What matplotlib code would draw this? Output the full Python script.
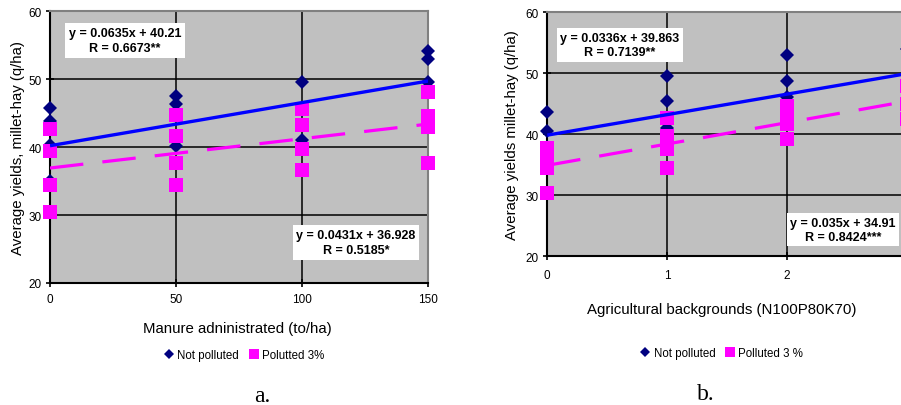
import numpy as np
import matplotlib.pyplot as plt
from matplotlib.lines import Line2D

plt.rcParams['font.family'] = ['Liberation Sans', 'DejaVu Sans']

# === Panel a: manure doses ===
a_doses = [0, 50, 100, 150]
a_not_polluted = [[45.8, 43.9, 40.3, 35.0],
                  [47.5, 46.3, 40.2],
                  [49.6, 45.4, 41.1],
                  [54.1, 53.0, 49.6, 44.2]]
a_polluted = [[42.6, 39.4, 34.4, 30.4],
              [44.7, 41.7, 37.7, 34.4],
              [45.6, 43.3, 39.8, 36.7],
              [48.1, 44.6, 42.9, 37.7]]
a_fit_np = (0.0635, 40.21)
a_fit_p = (0.0431, 36.928)
a_eq_np = "y = 0.0635x + 40.21\nR = 0.6673**"
a_eq_p = "y = 0.0431x + 36.928\nR = 0.5185*"
a_xticklabels = ["0", "50", "100", "150"]

# === Panel b: agricultural backgrounds ===
b_levels = [0, 1, 2, 3]
b_not_polluted = [[43.7, 40.6, 37.9],
                  [49.6, 45.5, 41.0],
                  [53.0, 48.7, 46.1],
                  [54.0]]
b_polluted = [[37.8, 36.0, 34.5, 30.3],
              [42.7, 39.7, 37.6, 34.4],
              [44.6, 43.0, 41.7, 39.2],
              [48.0, 45.0, 42.5]]
b_fit_np = (0.0336, 39.863)
b_fit_p = (0.035, 34.91)
b_eq_np = "y = 0.0336x + 39.863\nR = 0.7139**"
b_eq_p = "y = 0.035x + 34.91\nR = 0.8424***"
# the "3" falls outside the cropped original, so it is left blank
b_xticklabels = ["0", "1", "2", ""]

NAVY = '#000080'
MAGENTA = '#FF00FF'
BLUE = '#0000FF'


def flat(xs, groups):
    px, py = [], []
    for x, vals in zip(xs, groups):
        px += [x] * len(vals)
        py += vals
    return np.array(px, float), np.array(py, float)


def draw_panel(ax, xs, not_pol, pol, fit_np, fit_p, eq_scale, xlabels):
    ax.set_facecolor('#C0C0C0')
    ax.set_xlim(xs[0], xs[-1])
    ax.set_ylim(20, 60)
    ax.set_xticks(xs)
    ax.set_xticklabels(xlabels)
    ax.set_yticks([20, 30, 40, 50, 60])
    ax.set_axisbelow(True)
    ax.grid(True, color='black', lw=1.1)

    for s in ['left', 'bottom']:
        ax.spines[s].set_color('black')
        ax.spines[s].set_linewidth(1.5)
    for s in ['top', 'right']:
        ax.spines[s].set_color('#808080')
        ax.spines[s].set_linewidth(1.5)
    ax.tick_params(direction='inout', length=6, width=1.2, labelsize=8.5)
    ax.tick_params(axis='y', pad=3)
    ax.tick_params(axis='x', pad=4.5)

    # points
    x1, y1 = flat(xs, not_pol)
    x2, y2 = flat(xs, pol)
    ax.plot(x1, y1, ls='none', marker='D', ms=6.9, mew=0, color=NAVY,
            clip_on=False, zorder=3)
    ax.plot(x2, y2, ls='none', marker='s', ms=9.4, mew=0, color=MAGENTA,
            clip_on=False, zorder=3.1)

    # trend lines from the printed equations
    xl = np.array([xs[0], xs[-1]], float)
    ax.plot(xl, fit_np[0] * xl * eq_scale + fit_np[1], color=BLUE, lw=2.4,
            solid_capstyle='butt', zorder=4)
    ax.plot(xl, fit_p[0] * xl * eq_scale + fit_p[1], color=MAGENTA, lw=2.3,
            ls=(0, (10.5, 6)), zorder=4)


fig = plt.figure(figsize=(9.01, 4.06), dpi=100)
W, H = 901, 406

ax_a = fig.add_axes([50 / W, 1 - 284 / H, 378 / W, 271.7 / H])
draw_panel(ax_a, a_doses, a_not_polluted, a_polluted, a_fit_np, a_fit_p, 1,
           a_xticklabels)
ax_a.set_xlabel("Manure adninistrated (to/ha)", fontsize=10.8)
ax_a.set_ylabel("Average yields, millet-hay (q/ha)", fontsize=10.8)
ax_a.xaxis.set_label_coords(0.497, -0.1656)
ax_a.xaxis.label.set_va('center')
ax_a.yaxis.set_label_coords(-0.0847, 0.502)
ax_a.yaxis.label.set_va('center')

box = dict(boxstyle='square,pad=0.3', fc='white', ec='none')
ax_a.text(0.198, 0.8925, a_eq_np, transform=ax_a.transAxes, ha='center',
          va='center', fontsize=9, fontweight='bold', linespacing=1.3,
          bbox=box, zorder=5)
ax_a.text(0.8095, 0.149, a_eq_p, transform=ax_a.transAxes, ha='center',
          va='center', fontsize=9, fontweight='bold', linespacing=1.3,
          bbox=box, zorder=5)

# panel b runs past the right edge of the picture, like the original crop
ax_b = fig.add_axes([547.3 / W, 1 - 257.3 / H, 359.5 / W, 244 / H])
# the equations were fitted with x in hundreds
draw_panel(ax_b, b_levels, b_not_polluted, b_polluted, b_fit_np, b_fit_p, 100,
           b_xticklabels)
ax_b.tick_params(axis='x', pad=6)
ax_b.set_xlabel("Agricultural backgrounds (N100P80K70)", fontsize=10.8)
ax_b.set_ylabel("Average yields millet-hay (q/ha)", fontsize=10.8)
ax_b.xaxis.set_label_coords(0.486, -0.216)
ax_b.xaxis.label.set_va('center')
ax_b.yaxis.set_label_coords(-0.0982, 0.501)
ax_b.yaxis.label.set_va('center')

box_b = dict(boxstyle='square,pad=0.25', fc='white', ec='none')
ax_b.text(0.202, 0.866, b_eq_np, transform=ax_b.transAxes, ha='center',
          va='center', fontsize=9, fontweight='bold', linespacing=1.3,
          bbox=box, zorder=5)
ax_b.text(0.8225, 0.108, b_eq_p, transform=ax_b.transAxes, ha='center',
          va='center', fontsize=9, fontweight='bold', linespacing=1.3,
          bbox=box_b, zorder=5)

# === legends ===
def legend_at(x, y, pol_label):
    h = [Line2D([], [], ls='none', marker='D', ms=4.7, mew=0, color=NAVY),
         Line2D([], [], ls='none', marker='s', ms=6.7, mew=0, color=MAGENTA)]
    fig.legend(h, ["Not polluted", pol_label], loc='center',
               bbox_to_anchor=(x, y), ncol=2, frameon=False, fontsize=8.3,
               handlelength=0.8, handletextpad=0.3, columnspacing=0.9)


legend_at(244 / W, 1 - 356 / H, "Polutted 3%")
legend_at(722 / W, 1 - 354 / H, "Polluted 3 %")

# === panel letters ===
fig.text(262 / W, 1 - 397 / H, "a.", ha='center', va='center',
         family='Liberation Serif', fontsize=17)
fig.text(706 / W, 1 - 395 / H, "b.", ha='center', va='center',
         family='Liberation Serif', fontsize=17)

fig.savefig("out.png", dpi=100)
